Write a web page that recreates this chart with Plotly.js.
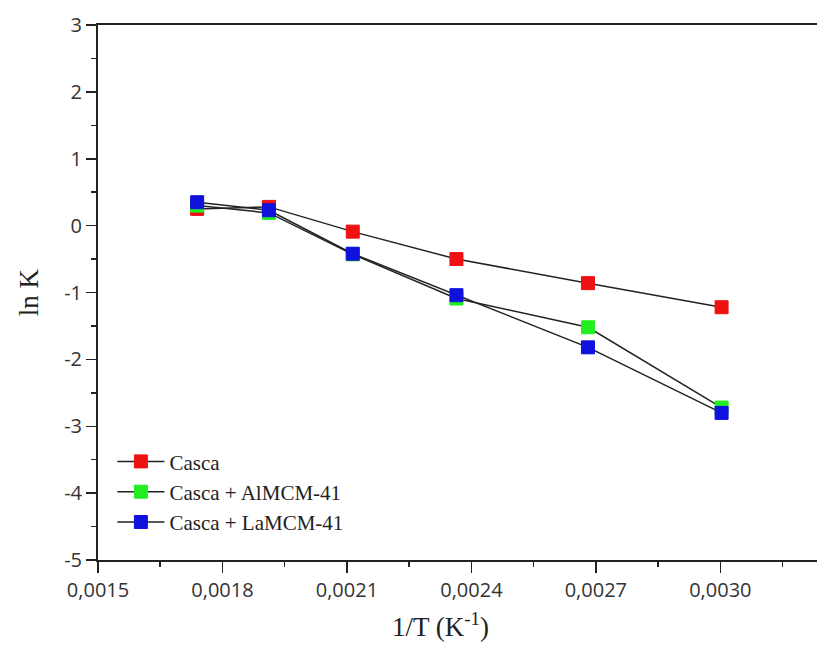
<!DOCTYPE html>
<html>
<head>
<meta charset="utf-8">
<script src="https://cdn.plot.ly/plotly-3.0.1.min.js"></script>
<style>body{margin:0;background:#fff}#chart{width:817px;height:646px}</style>
</head>
<body>
<div id="chart"></div>
<script>
// 1/T values (K^-1)
const invT = [0.001739, 0.001912, 0.002114, 0.002364, 0.002681, 0.003003];
// ln K values
const casca = [0.25, 0.28, -0.09, -0.50, -0.86, -1.22];
const cascaAl = [0.30, 0.19, -0.43, -1.09, -1.52, -2.72];
const cascaLa = [0.35, 0.23, -0.42, -1.04, -1.82, -2.80];
const seriesNames = ["Casca", "Casca + AlMCM-41", "Casca + LaMCM-41"];
const seriesColors = ["#ee1111", "#22ee22", "#1111dd"];
// y tick labels
const yTickVals = [-5, -4, -3, -2, -1, 0, 1, 2, 3];
const yTickText = ["-5", "-4", "-3", "-2", "-1", "0", "1", "2", "3"];
const xTitle = "1/T (K<sup>-1</sup>)";
const yTitle = "ln K";

const ys = [casca, cascaAl, cascaLa];
const traces = ys.map((y, i) => ({
  x: invT, y: y, type: "scatter", mode: "lines+markers", name: seriesNames[i],
  line: {color: "#222", width: 1.5},
  marker: {symbol: "square", size: 13, color: seriesColors[i], line: {color: seriesColors[i], width: 1}}
}));

const tickFont = {family: "Open Sans, Noto Sans, sans-serif", size: 20, color: "#333"};
const titleFont = {family: "Liberation Serif, serif", size: 27, color: "#222"};
const layout = {
  width: 817, height: 646,
  margin: {l: 98, r: 0, t: 25, b: 86},
  paper_bgcolor: "#fff", plot_bgcolor: "#fff",
  separators: ",.",
  showlegend: true,
  legend: {x: 0.02, y: 0.222, xanchor: "left", yanchor: "top", bgcolor: "rgba(0,0,0,0)",
           itemwidth: 47,
           font: {family: "Liberation Serif, serif", size: 21, color: "#222"}, tracegroupgap: 0},
  xaxis: {
    range: [0.0015, 0.003233], tick0: 0.0015, dtick: 0.0003, tickformat: ".4f",
    ticks: "outside", ticklen: 11, tickwidth: 1.5, tickcolor: "#222",
    showline: true, linecolor: "#222", linewidth: 2, mirror: true,
    showgrid: false, zeroline: false, tickfont: tickFont,
    minor: {dtick: 0.00015, ticks: "outside", ticklen: 5, tickcolor: "#222", tickwidth: 1.5, showgrid: false}
  },
  yaxis: {
    range: [-5, 3], tickmode: "array", tickvals: yTickVals, ticktext: yTickText,
    ticks: "outside", ticklen: 10, tickwidth: 1.5, tickcolor: "#222",
    showline: true, linecolor: "#222", linewidth: 2,
    showgrid: false, zeroline: false, tickfont: tickFont,
    minor: {dtick: 0.5, tick0: 0, ticks: "outside", ticklen: 5, tickcolor: "#222", tickwidth: 1.5, showgrid: false},
    title: {text: yTitle, font: titleFont, standoff: 18}
  },
  annotations: [{
    text: xTitle, xref: "paper", yref: "paper", x: 0.477, y: -0.122,
    xanchor: "center", yanchor: "middle", showarrow: false, font: titleFont
  }]
};
Plotly.newPlot("chart", traces, layout, {displayModeBar: false, staticPlot: true});
</script>
</body>
</html>
